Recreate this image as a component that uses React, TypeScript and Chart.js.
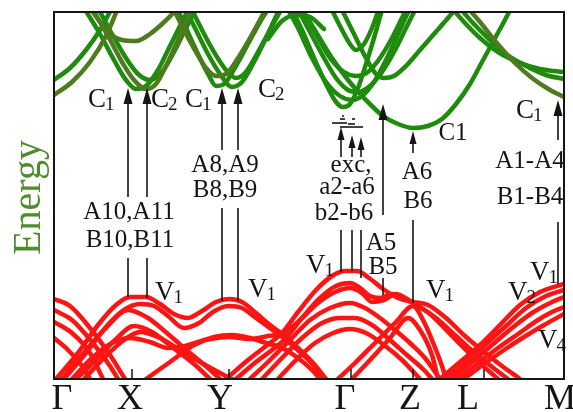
import React, { useEffect, useRef } from 'react';
import { Chart, registerables } from 'chart.js';

Chart.register(...registerables);

type Pt = [number, number];

// k-path (arbitrary units along the Brillouin-zone path) and energy (arbitrary units)
const kTicks = [0, 78, 175, 297, 359, 430, 510];
const kTickLabels = ['Γ', 'X', 'Y', 'Γ', 'Z', 'L', 'M'];
const kLabelPos = [8, 76, 166, 291, 356, 414, 506];
const kMin = 0;
const kMax = 510;
const eMin = 0;
const eMax = 367;

const zip = (k: number[], e: number[]): Pt[] => k.map((v, i) => [v, e[i]]);

// valence bands (red)
const redA1 = zip([0, 16, 36, 56, 71], [80, 73, 51, 24, 0]);
const redA2 = zip([0, 18, 38, 56, 64], [69, 59, 37, 13, 0]);
const redA3 = zip([0, 18, 36, 49], [57, 46, 26, 0]);
const redA4 = zip([0, 14, 28, 36], [41, 29, 13, 0]);
const redB1 = zip(
  [2, 24, 44, 62, 76, 92, 106, 120, 134, 148, 162, 175, 188, 202, 216, 228, 244, 260, 272],
  [0, 26, 54, 74, 82, 82, 75, 65, 61, 68, 77, 80, 77, 66, 54, 45, 31, 15, 0]
);
const redB2 = zip(
  [10, 32, 52, 70, 86, 100, 114, 130, 145, 159, 174, 188, 202, 217, 231, 246, 260, 268],
  [0, 26, 52, 69, 75, 73, 63, 51, 56, 67, 73, 71, 61, 50, 40, 27, 13, 0]
);
const redB3 = zip(
  [18, 38, 58, 76, 96, 114, 131, 151, 175, 196, 214, 230, 246, 264, 281, 296, 308, 318, 330, 342, 359, 376, 396, 416, 436, 444],
  [0, 21, 36, 41, 37, 31, 33, 39, 42, 40, 43, 46, 59, 76, 87, 91, 86, 77, 79, 85, 76, 65, 45, 25, 7, 0]
);
const redC1 = zip([8, 28, 50, 74, 94, 114, 136, 154, 166], [0, 24, 49, 69, 61, 45, 26, 11, 0]);
const redC2 = zip([22, 42, 61, 80, 98, 118, 140, 156], [0, 19, 39, 53, 47, 32, 15, 0]);
const redC3 = zip([92, 116, 140, 160, 178, 196, 212, 228, 244, 258, 266], [0, 17, 34, 42, 44, 41, 36, 31, 21, 9, 0]);
const redC4 = zip([30, 50, 70, 86, 106, 126, 146, 168, 178], [0, 21, 39, 47, 41, 29, 17, 5, 0]);
const redD1 = zip(
  [172, 194, 212, 228, 244, 262, 278, 291, 303, 315, 329, 344, 359, 374, 392, 411, 430, 448, 466],
  [0, 19, 33, 46, 67, 89, 103, 108, 108, 101, 90, 81, 77, 74, 61, 43, 27, 13, 0]
);
const redD2 = zip(
  [182, 202, 218, 232, 248, 266, 282, 296, 306, 316, 326, 338, 350, 364, 382, 402, 422, 442, 454],
  [0, 17, 29, 41, 61, 81, 93, 96, 91, 83, 81, 85, 81, 73, 61, 43, 25, 9, 0]
);
const redD3 = zip([196, 216, 236, 256, 276, 296, 311, 326, 341, 356, 371, 386], [0, 19, 39, 59, 71, 76, 71, 61, 49, 36, 21, 0]);
const redD4 = zip([208, 228, 248, 268, 286, 301, 318, 336, 354, 370, 378], [0, 21, 41, 56, 61, 61, 54, 39, 23, 9, 0]);
const redD5 = zip([224, 242, 261, 279, 296, 312, 330, 348, 366], [0, 19, 36, 46, 50, 46, 34, 19, 0]);
const redE1 = zip([284, 302, 322, 342, 359, 370, 380, 388, 392], [0, 17, 37, 57, 73, 57, 34, 13, 0]);
const redE2 = zip([298, 316, 336, 354, 366, 378, 384], [0, 19, 41, 61, 49, 24, 0]);
const redF1 = zip([386, 406, 426, 446, 466, 486, 510], [0, 17, 34, 54, 74, 87, 95]);
const redF2 = zip([392, 412, 432, 452, 472, 492, 510], [0, 17, 35, 53, 71, 83, 89]);
const redF3 = zip([398, 418, 438, 458, 478, 496, 510], [0, 17, 34, 51, 66, 76, 82]);
const redF4 = zip([404, 424, 444, 464, 484, 498, 510], [0, 16, 31, 45, 59, 67, 72]);
const redF5 = zip([410, 430, 450, 470, 490, 510], [0, 15, 29, 42, 54, 65]);

// conduction bands (green / olive)
const grnG1 = zip([0, 16, 32, 46, 58], [299, 311, 329, 349, 371]);
const olvG1 = zip([0, 18, 36, 52, 64], [284, 297, 317, 343, 371]);
const grnX1 = zip([30, 46, 60, 72, 82, 92, 104, 116, 130, 136], [371, 345, 319, 299, 290, 293, 309, 333, 361, 373]);
const olvX2 = zip([38, 54, 68, 80, 92, 102, 112, 124, 136, 140], [371, 343, 317, 299, 290, 295, 313, 339, 367, 375]);
const grnX3 = zip([44, 58, 72, 84, 96, 108, 120, 132, 144], [371, 345, 321, 305, 299, 307, 327, 351, 373]);
const olvX4 = zip([36, 46, 56, 68, 82, 96, 108, 120, 126], [371, 357, 345, 339, 338, 345, 355, 367, 375]);
const grnY1 = zip([122, 132, 144, 154, 162, 170, 182, 194, 206, 216], [373, 351, 325, 305, 293, 295, 313, 335, 357, 373]);
const grnY2 = zip([130, 142, 154, 166, 178, 188, 200, 212, 224, 228], [373, 349, 325, 305, 292, 297, 317, 341, 367, 375]);
const olvY3 = zip([118, 130, 142, 152, 162, 172, 184, 196, 208, 214], [373, 349, 327, 311, 303, 305, 321, 341, 363, 375]);
const grnY4 = zip([136, 148, 160, 172, 182, 192, 204, 216, 228], [373, 349, 327, 309, 301, 307, 327, 349, 371]);
const grnTop = zip([214, 228, 242, 256, 270], [340, 358, 364, 362, 350]);
const grnGa = zip([236, 248, 260, 272, 282, 289, 296, 304, 312, 320, 328], [373, 349, 321, 295, 277, 272, 275, 291, 315, 341, 369]);
const grnGb = zip([232, 244, 258, 272, 286, 298, 308, 320, 332, 344, 356], [373, 351, 321, 297, 283, 279, 283, 297, 319, 345, 371]);
const grnGc = zip([242, 256, 270, 282, 294, 304, 316, 328, 340, 352, 362], [373, 347, 321, 301, 289, 287, 293, 307, 327, 351, 371]);
const grnGd = zip([246, 262, 276, 290, 302, 314, 326, 338, 348, 354], [373, 345, 321, 307, 303, 307, 321, 341, 361, 373]);
const grnGin = zip([276, 286, 296, 302, 310, 318, 326], [373, 353, 335, 329, 335, 351, 373]);
const grnZx = zip([288, 300, 312, 322, 330, 340, 352, 366, 380, 394, 404], [369, 345, 321, 305, 301, 303, 313, 329, 345, 361, 373]);
const grnC1 = zip(
  [246, 262, 278, 294, 310, 329, 344, 359, 374, 388, 402, 416, 428, 440, 452, 458],
  [373, 347, 321, 299, 281, 263, 255, 251, 253, 260, 275, 295, 317, 339, 361, 373]
);
const grnM1 = zip([396, 410, 426, 444, 464, 486, 510], [373, 357, 341, 327, 317, 310, 307]);
const grnM2 = zip([404, 418, 434, 452, 472, 492, 510], [373, 357, 341, 325, 313, 304, 300]);
const olvM3 = zip([412, 426, 442, 460, 478, 496, 510], [373, 357, 337, 317, 301, 289, 282]);

const valenceBands = [redA1, redA2, redA3, redA4, redB1, redB2, redB3, redC1, redC2, redC3, redC4, redD1, redD2, redD3, redD4, redD5, redE1, redE2, redF1, redF2, redF3, redF4, redF5];
const greenBands = [grnG1, grnX1, grnX3, grnY1, grnY2, grnY4, grnTop, grnGa, grnGb, grnGc, grnGd, grnGin, grnZx, grnC1, grnM1, grnM2];
const oliveBands = [olvG1, olvX2, olvX4, olvY3, olvM3];

// annotations: [text, k, E] centred
const plainLabels: [string, number, number][] = [
  ['A10,A11', 75, 167],
  ['B10,B11', 76, 139],
  ['A8,A9', 171, 214],
  ['B8,B9', 171, 189],
  ['exc,', 297, 214],
  ['a2-a6', 293, 192],
  ['b2-b6', 290, 166],
  ['A5', 327, 136],
  ['B5', 329, 112],
  ['A6', 363, 207],
  ['B6', 364, 178],
  ['A1-A4', 476, 218],
  ['B1-B4', 476, 182],
  ['C1', 399, 246],
];
// [main, subscript, k (left), E (baseline)]
const subLabels: [string, string, number, number][] = [
  ['C', '1', 34, 272],
  ['C', '2', 97, 272],
  ['C', '1', 131, 272],
  ['C', '2', 204, 282],
  ['C', '1', 462, 261],
  ['V', '1', 101, 79],
  ['V', '1', 194, 82],
  ['V', '1', 252, 106],
  ['V', '1', 372, 81],
  ['V', '2', 454, 79],
  ['V', '1', 476, 99],
  ['V', '4', 484, 31],
];
// arrows [k, E start, E tip]
const arrows: [number, number, number][] = [
  [74, 182, 291],
  [93, 182, 291],
  [168, 229, 291],
  [184, 229, 291],
  [287, 222, 252],
  [298, 222, 244],
  [307, 222, 242],
  [329, 164, 275],
  [359, 226, 248],
  [504, 239, 279],
];
// plain stems [k, E top, E bottom]
const stems: [number, number, number][] = [
  [74, 121, 82],
  [93, 121, 81],
  [168, 171, 78],
  [184, 171, 78],
  [287, 149, 107],
  [298, 149, 108],
  [307, 149, 101],
  [329, 101, 84],
  [359, 159, 76],
  [504, 157, 95],
];
// exciton levels [k0, k1, E]
const excitonBars: [number, number, number][] = [
  [278, 293, 256],
  [294, 301, 255],
  [286, 309, 252],
  [286, 291, 260],
  [298, 301, 260],
  [288, 290, 263],
];

const SERIF = '"Liberation Serif", "Times New Roman", serif';
const RED = '#ff1414';
const GREEN = '#1f8b0d';
const OLIVE = '#4f7a1e';
const INK = '#151515';

const overlay = {
  id: 'overlay',
  afterDatasetsDraw(chart: any) {
    const { ctx, chartArea: a, scales } = chart;
    const X = (k: number) => scales.x.getPixelForValue(k);
    const Y = (e: number) => scales.y.getPixelForValue(e);
    ctx.save();
    // frame
    ctx.strokeStyle = INK;
    ctx.lineWidth = 2;
    ctx.strokeRect(a.left, a.top, a.right - a.left, a.bottom - a.top);
    // inward ticks
    ctx.lineWidth = 1.5;
    kTicks.slice(1, -1).forEach((k) => {
      ctx.beginPath();
      ctx.moveTo(X(k), a.bottom);
      ctx.lineTo(X(k), a.bottom - 10);
      ctx.stroke();
    });
    // tick labels
    ctx.fillStyle = INK;
    ctx.font = `36px ${SERIF}`;
    ctx.textAlign = 'center';
    ctx.textBaseline = 'alphabetic';
    kTickLabels.forEach((t, i) => ctx.fillText(t, X(kLabelPos[i]), a.bottom + 30));
    // axis title
    ctx.save();
    ctx.translate(a.left - 14, (a.top + a.bottom) / 2 + 2);
    ctx.rotate(-Math.PI / 2);
    ctx.fillStyle = '#4f8c2c';
    ctx.font = `40px ${SERIF}`;
    ctx.textAlign = 'center';
    ctx.fillText('Energy', 0, 0);
    ctx.restore();
    // stems
    ctx.strokeStyle = INK;
    ctx.lineWidth = 1.6;
    stems.forEach(([k, e0, e1]) => {
      ctx.beginPath();
      ctx.moveTo(X(k), Y(e0));
      ctx.lineTo(X(k), Y(e1));
      ctx.stroke();
    });
    // arrows
    arrows.forEach(([k, e0, e1]) => {
      const small = e1 - e0 < 40;
      const hl = small ? 13 : 16;
      const hw = small ? 3.5 : 4.5;
      const x = X(k);
      const yt = Y(e1);
      ctx.beginPath();
      ctx.moveTo(x, Y(e0));
      ctx.lineTo(x, yt + hl - 2);
      ctx.stroke();
      ctx.beginPath();
      ctx.moveTo(x, yt);
      ctx.lineTo(x - hw, yt + hl);
      ctx.lineTo(x + hw, yt + hl);
      ctx.closePath();
      ctx.fillStyle = INK;
      ctx.fill();
    });
    // exciton bars
    ctx.lineWidth = 1.6;
    excitonBars.forEach(([k0, k1, e]) => {
      ctx.beginPath();
      ctx.moveTo(X(k0), Y(e));
      ctx.lineTo(X(k1), Y(e));
      ctx.stroke();
    });
    // labels
    ctx.fillStyle = INK;
    ctx.font = `25px ${SERIF}`;
    ctx.textAlign = 'center';
    ctx.textBaseline = 'middle';
    plainLabels.forEach(([t, k, e]) => ctx.fillText(t, X(k), Y(e)));
    ctx.textAlign = 'left';
    ctx.textBaseline = 'alphabetic';
    subLabels.forEach(([m, s, k, e]) => {
      ctx.font = `27px ${SERIF}`;
      const x = X(k);
      const y = Y(e);
      ctx.fillText(m, x, y);
      const w = ctx.measureText(m).width;
      ctx.font = `19px ${SERIF}`;
      ctx.fillText(s, x + w - 1, y + 3);
    });
    ctx.restore();
  },
};

export default function App() {
  const ref = useRef<HTMLCanvasElement | null>(null);
  useEffect(() => {
    if (!ref.current) return;
    const mk = (pts: Pt[], color: string) => ({
      data: pts.map(([x, y]) => ({ x, y })),
      borderColor: color,
      backgroundColor: color,
      borderWidth: 4.5,
      pointRadius: 0,
      fill: false,
      cubicInterpolationMode: 'monotone' as const,
      borderCapStyle: 'round' as const,
      borderJoinStyle: 'round' as const,
    });
    const datasets = [
      ...valenceBands.map((b) => mk(b, RED)),
      ...oliveBands.map((b) => mk(b, OLIVE)),
      ...greenBands.map((b) => mk(b, GREEN)),
    ];
    const chart = new Chart(ref.current, {
      type: 'line',
      data: { datasets },
      options: {
        responsive: false,
        animation: false,
        devicePixelRatio: 1,
        layout: { padding: { left: 54, right: 9, top: 12, bottom: 33 } },
        plugins: { legend: { display: false }, tooltip: { enabled: false } },
        scales: {
          x: { type: 'linear', min: kMin, max: kMax, display: false },
          y: { type: 'linear', min: eMin, max: eMax, display: false },
        },
      },
      plugins: [overlay],
    });
    return () => chart.destroy();
  }, []);
  return (
    <div style={{ position: 'absolute', left: 0, top: 0, width: 573, height: 412, background: '#fff' }}>
      <canvas ref={ref} width={573} height={412} />
    </div>
  );
}
